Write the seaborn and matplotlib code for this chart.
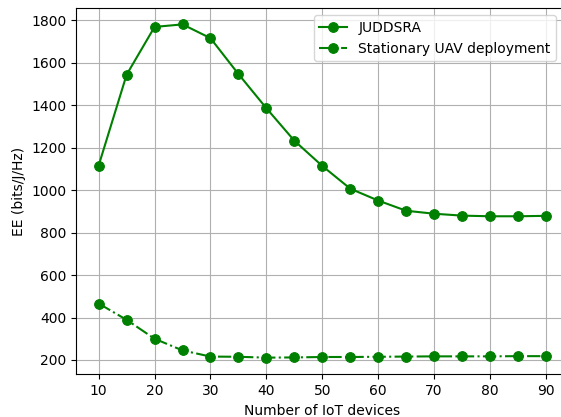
import matplotlib
matplotlib.use("Agg")
import matplotlib.pyplot as plt
import seaborn as sns
import pandas as pd

devices = [10, 15, 20, 25, 30, 35, 40, 45, 50, 55, 60, 65, 70, 75, 80, 85, 90]
juddsra = [1116, 1544, 1769, 1781, 1716, 1547, 1386, 1233, 1114, 1007, 951, 903, 889, 880, 877, 877, 879]
stationary = [466, 389, 300, 245, 216, 215, 211, 212, 214, 214, 215, 216, 217, 217, 217, 218, 218]

df1 = pd.DataFrame({"x": devices, "y": juddsra})
df2 = pd.DataFrame({"x": devices, "y": stationary})

fig, ax = plt.subplots(figsize=(5.61, 4.17), dpi=100)
fig.subplots_adjust(left=0.136, right=1.013, bottom=0.1024, top=0.9815)

sns.lineplot(data=df1, x="x", y="y", ax=ax, color="green", marker="o", markersize=7,
             markeredgecolor="green", linestyle="-", label="JUDDSRA")
sns.lineplot(data=df2, x="x", y="y", ax=ax, color="green", marker="o", markersize=7,
             markeredgecolor="green", linestyle="-.", label="Stationary UAV deployment")

ax.set_xticks(range(10, 91, 10))
ax.set_yticks(range(200, 1801, 200))
ax.set_xlabel("Number of IoT devices")
ax.set_ylabel("EE (bits/J/Hz)")
ax.grid(True, color="#b0b0b0", linewidth=0.8)
ax.legend(loc="upper right", bbox_to_anchor=(556 / 561, 1 - 15 / 417),
          bbox_transform=fig.transFigure, borderaxespad=0)

fig.savefig("out.png", dpi=100)
